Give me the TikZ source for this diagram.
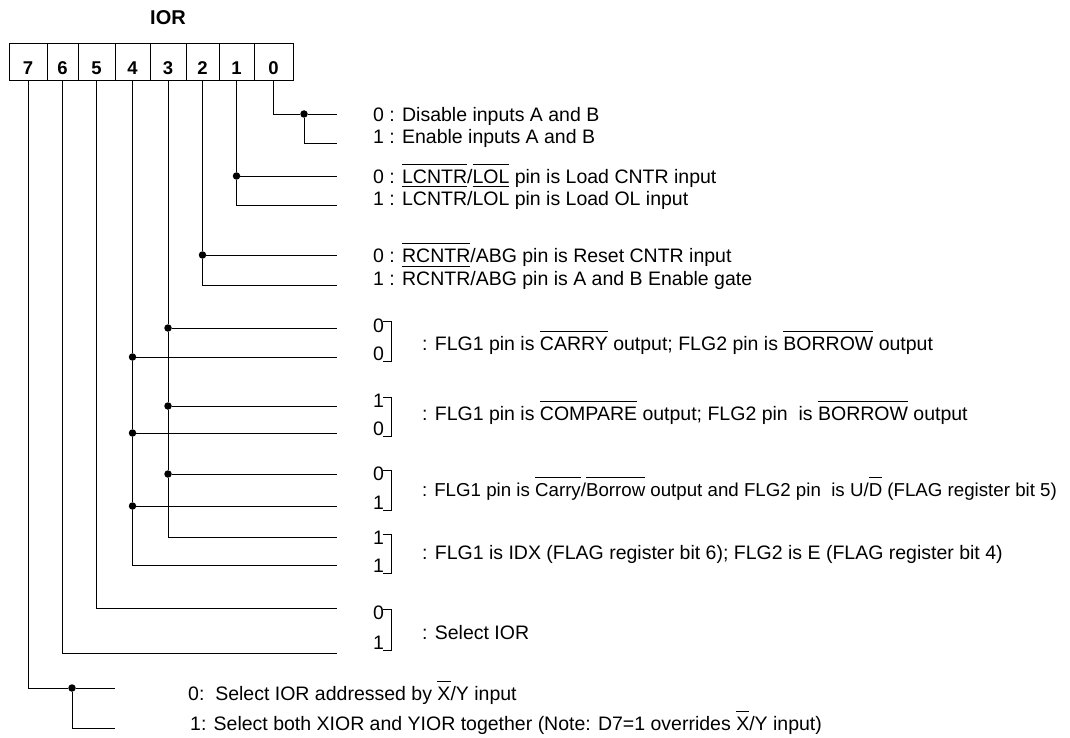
\documentclass[tikz,border=0pt]{standalone}
\usepackage{fontspec}
\setmainfont{Liberation Sans}
\newcommand\ovl[1]{\setbox0\hbox{#1}\rlap{\raisebox{\dimexpr\ht0+5pt\relax}{\rule{\wd0}{0.7pt}}}#1}

\begin{document}
\begin{tikzpicture}[x=1pt,y=-1pt,font=\fontsize{19.5}{23}\selectfont]
 \useasboundingbox (0,0) rectangle (1070,738);
 \tikzset{cell/.style={draw,line width=0.8pt,minimum height=37pt,inner sep=0pt,outer sep=0pt,
            anchor=north west,text height=27pt,text depth=0pt,font=\fontsize{18.5}{18}\selectfont\bfseries},
          wire/.style={line width=0.8pt},
          xdot/.style={circle,fill=black,inner sep=0pt,minimum size=7.5pt},
          txt/.style={anchor=base west,inner sep=0pt},
          bitval/.style={anchor=west,inner sep=0pt}}

% register
  \node[font=\fontsize{20}{20}\selectfont\bfseries] (title) at (168,18) {IOR};
  \foreach \n/\l/\r in {7/9/47,6/47/78,5/78/115,4/115/150,3/150/186,2/186/219,1/219/254,0/254/293}
    \node[cell,minimum width={(\r-\l)*1pt}] (c\n) at (\l,43) {\n};

% bit 0
  \node[xdot] (d0) at (304,114) {};
  \coordinate (e0a) at (337,114);
  \coordinate (e0b) at (337,143);
  \draw[wire] (c0.south) |- (d0) -- (e0a);
  \draw[wire] (d0) |- (e0b);
  \node[txt] (t0a) at (373,122) {0 : Disable inputs A and B};
  \node[txt] (t0b) at (373,144) {1 : Enable inputs A and B};

% bit 1
  \node[xdot] (d1) at (236.5,176) {};
  \coordinate (e1a) at (337,176);
  \coordinate (e1b) at (337,205);
  \draw[wire] (c1.south) -- (d1) -- (e1a);
  \draw[wire] (d1) |- (e1b);
  \node[txt] (t1a) at (373,183) {0 : \ovl{LCNTR}/\ovl{LOL} pin is Load CNTR input};
  \node[txt] (t1b) at (373,205) {1 : \ovl{LCNTR}/\ovl{LOL} pin is Load OL input};

% bit 2
  \node[xdot] (d2) at (202.5,255) {};
  \coordinate (e2a) at (337,255);
  \coordinate (e2b) at (337,285);
  \draw[wire] (c2.south) -- (d2) -- (e2a);
  \draw[wire] (d2) |- (e2b);
  \node[txt] (t2a) at (373,262) {0 : \ovl{RCNTR}/ABG pin is Reset CNTR input};
  \node[txt] (t2b) at (373,285) {1 : \ovl{RCNTR}/ABG pin is A and B Enable gate};

% bits 3 and 4
  \node[xdot] (d3a) at (168,328) {};
  \node[xdot] (d3b) at (168,406) {};
  \node[xdot] (d3c) at (168,474) {};
  \node[xdot] (d4a) at (132.5,357) {};
  \node[xdot] (d4b) at (132.5,433) {};
  \node[xdot] (d4c) at (132.5,506) {};
  \coordinate (e3a) at (337,328);
  \coordinate (e3b) at (337,406);
  \coordinate (e3c) at (337,474);
  \coordinate (e3d) at (337,537);
  \coordinate (e4a) at (337,357);
  \coordinate (e4b) at (337,433);
  \coordinate (e4c) at (337,506);
  \coordinate (e4d) at (337,565);
  \draw[wire] (c3.south) -- (d3a) -- (d3b) -- (d3c) |- (e3d);
  \draw[wire] (c4.south) -- (d4a) -- (d4b) -- (d4c) |- (e4d);
  \draw[wire] (d3a) -- (e3a);
  \draw[wire] (d3b) -- (e3b);
  \draw[wire] (d3c) -- (e3c);
  \draw[wire] (d4a) -- (e4a);
  \draw[wire] (d4b) -- (e4b);
  \draw[wire] (d4c) -- (e4c);

% bits 5 and 6
  \coordinate (e5) at (337,608);
  \coordinate (e6) at (337,653);
  \draw[wire] (c5.south) |- (e5);
  \draw[wire] (c6.south) |- (e6);

% bit values and brackets
  \node[bitval] (f1up) at (373,326) {0};
  \node[bitval] (f1lo) at (373,354) {0};
  \node[bitval] (f2up) at (373,401) {1};
  \node[bitval] (f2lo) at (373,429) {0};
  \node[bitval] (f3up) at (373,474) {0};
  \node[bitval] (f3lo) at (373,503) {1};
  \node[bitval] (f4up) at (373,538) {1};
  \node[bitval] (f4lo) at (373,566) {1};
  \node[bitval] (f5up) at (373,613) {0};
  \node[bitval] (f5lo) at (373,643) {1};
  \foreach \g in {1,...,5}
    \draw[wire] ([xshift=-1pt,yshift=-3pt]f\g up.north east) -- ++(8,0) |- ([xshift=-1pt]f\g lo.south east);

  \node[txt] (m1) at (422,350) {: FLG1 pin is \ovl{CARRY} output; FLG2 pin is \ovl{BORROW} output};
  \node[txt] (m2) at (422,420) {: FLG1 pin is \ovl{COMPARE} output; FLG2 pin\ \ is \ovl{BORROW} output};
  \node[txt,font=\fontsize{18.7}{23}\selectfont] (m3) at (422,496) {: FLG1 pin is \ovl{Carry}/\ovl{Borrow} output and FLG2 pin\ \ is U/\ovl{D} (FLAG register bit 5)};
  \node[txt] (m4) at (422,559) {: FLG1 is IDX (FLAG register bit 6); FLG2 is E (FLAG register bit 4)};
  \node[txt] (m5) at (422,639) {: Select IOR};

% bit 7
  \node[xdot] (d7) at (72,688) {};
  \coordinate (e7a) at (115,688);
  \coordinate (e7b) at (115,728);
  \draw[wire] (c7.south) |- (d7) -- (e7a);
  \draw[wire] (d7) |- (e7b);
  \node[txt] (t7a) at (188,700) {0:\ \ Select IOR addressed by \ovl{X}/Y input};
  \node[txt] (t7b) at (190,730) {1: Select both XIOR and YIOR together (Note: D7=1 overrides \ovl{X}/Y input)};

\end{tikzpicture}
\end{document}
